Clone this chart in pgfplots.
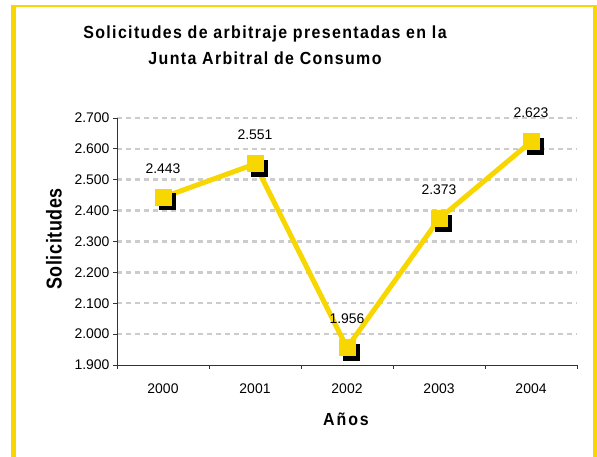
\documentclass[border=0pt]{standalone}
\usepackage{fontspec}
\setmainfont{Liberation Sans}
\newfontfamily\titlefont[LetterSpace=8.5]{Liberation Sans}
\newfontfamily\axlabfont[LetterSpace=12]{Liberation Sans}
\newfontfamily\ylabfont[LetterSpace=3]{Liberation Sans}
\usepackage{pgfplots}
\pgfplotsset{compat=1.18}
\definecolor{yel}{RGB}{248,214,0}
\definecolor{gridg}{RGB}{204,204,204}
\pgfplotstableread{
x y
0 2443
1 2551
2 1956
3 2373
4 2623
}\datatable
\begin{document}
\begin{tikzpicture}[x=1bp,y=1bp]
\path[use as bounding box] (0,0) rectangle (597,457);
\fill[yel] (11,0) rectangle (16,452);
\fill[yel] (11,450) rectangle (597,452);
\fill[yel] (593,0) rectangle (597,452);
\node[align=center, font=\titlefont\bfseries\fontsize{16}{26}\selectfont] at (265,412) {\scalebox{1}[1.1]{Solicitudes de arbitraje presentadas en la}\\\scalebox{1}[1.1]{Junta Arbitral de Consumo}};
\node[rotate=90, font=\ylabfont\bfseries\fontsize{18}{20}\selectfont] at (54,218) {\scalebox{1}[1.2]{Solicitudes}};
\node[font=\axlabfont\bfseries\fontsize{16}{18}\selectfont] at (346,38) {\scalebox{1}[1.1]{Años}};
\begin{axis}[
  at={(117bp,92bp)}, anchor=south west,
  scale only axis, width=460bp, height=247bp,
  xmin=-0.5, xmax=4.5, ymin=1900, ymax=2700,
  axis x line=bottom, axis y line=left,
  axis line style={-, line width=0.8bp, black!80},
  xtick={0,...,4}, xticklabels={2000,2001,2002,2003,2004},
  major x tick style={draw=none},
  minor xtick={-0.5,0.5,...,4.5},
  minor x tick style={black!80, line width=0.8bp},
  minor tick length=4bp,
  ytick={2000,2100,...,2700},
  extra y ticks={1900},
  extra y tick style={ymajorgrids=false},
  major tick length=4bp,
  tick align=outside,
  y tick style={black!80, line width=0.8bp},
  ymajorgrids,
  major grid style={gridg, line width=2.5bp, dash pattern=on 5bp off 4bp},
  tick label style={font=\fontsize{14}{16}\selectfont},
  xticklabel style={yshift=-11bp},
  /pgf/number format/.cd, 1000 sep={.}, assume math mode=true,
  clip=false,
]
\addplot[draw=none, mark=square*, mark size=8bp, mark options={fill=black, draw=black, xshift=4bp, yshift=-4bp}] table[x=x,y=y] {\datatable};
\addplot[yel, line width=5bp, mark=square*, mark size=8bp, mark options={fill=yel, draw=yel, line width=0bp},
  nodes near coords, every node near coord/.style={font=\fontsize{14}{16}\selectfont, black, anchor=center, yshift=29bp},
  ] table[x=x,y=y] {\datatable};
\end{axis}
\end{tikzpicture}
\end{document}
